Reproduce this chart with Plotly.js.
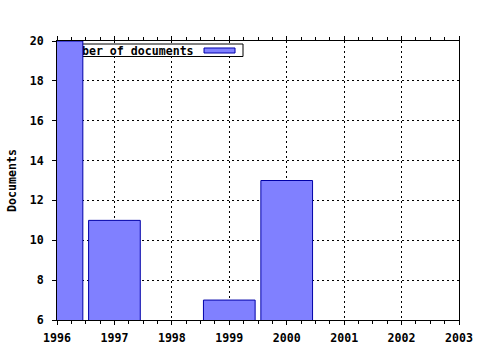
<!DOCTYPE html>
<html>
<head>
<meta charset="utf-8">
<script src="https://cdn.plot.ly/plotly-3.0.1.min.js"></script>
<style>html,body{margin:0;padding:0;background:#fff;}#chart{width:480px;height:350px;}</style>
</head>
<body>
<div id="chart"></div>
<script>
// Data
const years = [1996, 1997, 1999, 2000];
const documents = [20, 11, 7, 13];
const seriesName = "Number of documents";
const yTitle = "Documents";

const fontBase = {family: "DejaVu Sans Mono", size: 11.6, weight: "bold", color: "#000"};

const trace = {
  type: "bar",
  x: years,
  y: documents,
  name: seriesName,
  width: 0.9,
  marker: {color: "#8080ff", line: {color: "#0000a8", width: 1}},
  showlegend: false,
  hoverinfo: "x+y"
};

// legend-like box drawn under the bars (between grid and traces), in axis units
const layout = {
  width: 480, height: 350,
  margin: {l: 57, r: 21, t: 41, b: 30, pad: 0},
  paper_bgcolor: "#fff", plot_bgcolor: "#fff",
  font: fontBase,
  showlegend: false,
  xaxis: {
    range: [1996, 2003], dtick: 1, tick0: 1996, tickformat: "d",
    ticks: "outside", ticklen: 4, tickcolor: "#000", tickwidth: 1,
    showline: true, linecolor: "#000", linewidth: 1, mirror: "allticks",
    showgrid: true, gridcolor: "#000", gridwidth: 1, griddash: "2px,3px",
    zeroline: false, tickfont: fontBase, ticklabelstandoff: 3,
    minor: {dtick: 0.25, ticks: "outside", ticklen: 3, tickcolor: "#000", showgrid: false}
  },
  yaxis: {
    range: [6, 20], dtick: 2, tick0: 0,
    ticks: "outside", ticklen: 4, tickcolor: "#000", tickwidth: 1,
    showline: true, linecolor: "#000", linewidth: 1, mirror: true,
    showgrid: true, gridcolor: "#000", gridwidth: 1, griddash: "2px,3px",
    zeroline: false, tickfont: fontBase, ticklabelstandoff: 6,
    title: {text: yTitle, font: fontBase, standoff: 10}
  },
  shapes: [
    {
      type: "rect", xref: "x", yref: "y", layer: "between",
      x0: 1995.965, x1: 1999.239, y0: 19.222, y1: 19.849,
      fillcolor: "#fff", line: {color: "#000", width: 1},
      label: {text: seriesName, textposition: "middle left", font: fontBase, padding: 3}
    },
    {
      type: "rect", xref: "x", yref: "y", layer: "between",
      x0: 1998.56, x1: 1999.10, y0: 19.398, y1: 19.649,
      fillcolor: "#8080ff", line: {color: "#0000a8", width: 1}
    }
  ]
};

Plotly.newPlot("chart", [trace], layout, {displayModeBar: false, staticPlot: true});
</script>
</body>
</html>
